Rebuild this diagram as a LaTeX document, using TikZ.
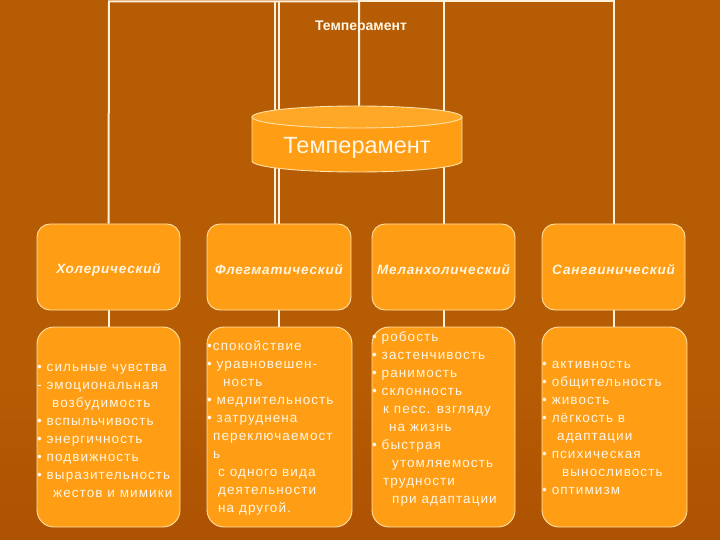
\documentclass[tikz,border=0pt]{standalone}
\usepackage{fontspec}
\setmainfont{Liberation Sans}
\newfontfamily\descfont[LetterSpace=8]{Liberation Sans}
\newfontfamily\typefont[LetterSpace=6]{Liberation Sans}
\usetikzlibrary{calc}
\definecolor{bgtop}{HTML}{964C00}
\definecolor{bgmid}{HTML}{B65C04}
\definecolor{bgbot}{HTML}{9C4200}
\definecolor{boxfill}{HTML}{FF9D14}
\definecolor{boxedge}{HTML}{FFE2A8}
\definecolor{cyltop}{HTML}{FFA828}
\definecolor{txt}{HTML}{FFF6E4}
\definecolor{wirec}{HTML}{FFF2DC}
\pgfdeclareverticalshading{bgshade}{100bp}{color(0bp)=(bgbot); color(40bp)=(bgmid); color(80bp)=(bgmid); color(100bp)=(bgtop)}
\pgfdeclarelayer{back}\pgfdeclarelayer{wires}\pgfdeclarelayer{cylbg}
\pgfsetlayers{back,wires,cylbg,main}
\tikzset{
  typebox/.style={draw=boxedge, line width=0.9pt, fill=boxfill, rounded corners=13pt,
    minimum width=143pt, minimum height=86pt, inner sep=0pt,
    font=\typefont\bfseries\itshape\fontsize{13.5}{16}\selectfont, text=txt},
  typelabel/.style={inner sep=0pt, text=txt,
    font=\typefont\bfseries\itshape\fontsize{13.5}{16}\selectfont},
  descbox/.style={draw=boxedge, line width=0.9pt, fill=boxfill, rounded corners=17pt,
    minimum height=200pt, inner sep=0pt},
  desctext/.style={anchor=north west, inner sep=0pt, align=left, text=txt,
    font=\descfont\fontsize{13.5}{18}\selectfont},
  wire/.style={draw=wirec, line width=2pt},
}
\begin{document}
\begin{tikzpicture}[x=1pt,y=-1pt]
\useasboundingbox (0,0) rectangle (720,540);
\begin{pgfonlayer}{back}
\fill[shading=bgshade] (0,0) rectangle (720,540);
\end{pgfonlayer}

% title
\node[font=\bfseries\fontsize{14}{16}\selectfont, text=txt] (title) at (361,27) {Темперамент};

% type boxes
\node[typebox] (chol) at (108.5,267) {};
\node[typebox, minimum width=144pt] (phleg) at (279,267) {};
\node[typebox] (mel) at (443.5,267) {};
\node[typebox] (sang) at (613.5,267) {};
\node[typelabel] (lchol) at (108.5,270) {Холерический};
\node[typelabel] (lphleg) at (279,270) {Флегматический};
\node[typelabel] (lmel) at (443.5,270) {Меланхолический};
\node[typelabel] (lsang) at (613.5,270) {Сангвинический};

% description boxes
\node[descbox, minimum width=143pt] (dchol) at (108.5,427) {};
\node[descbox, minimum width=145pt] (dphleg) at (279.5,427) {};
\node[descbox, minimum width=143pt] (dmel) at (443.5,427) {};
\node[descbox, minimum width=145pt] (dsang) at (614.5,427) {};

\node[desctext] (tchol) at (37,361) {\rule{0pt}{10pt}• сильные чувства\\
- эмоциональная\\
\hspace*{15pt}возбудимость\\
• вспыльчивость\\
• энергичность\\
• подвижность\\
• выразительность\\
\hspace*{16pt}жестов и мимики};

\node[desctext] (tphleg) at (207,340) {\rule{0pt}{10pt}•спокойствие\\
• уравновешен-\\
\hspace*{16pt}ность\\
• медлительность\\
• затруднена\\
\hspace*{6pt}переключаемост\\
\hspace*{6pt}ь\\
\hspace*{11pt}с одного вида\\
\hspace*{11pt}деятельности\\
\hspace*{11pt}на другой.};

\node[desctext] (tmel) at (372,331) {\rule{0pt}{10pt}• робость\\
• застенчивость\\
• ранимость\\
• склонность\\
\hspace*{11pt}к песс. взгляду\\
\hspace*{17pt}на жизнь\\
• быстрая\\
\hspace*{20pt}утомляемость\\
\hspace*{11pt}трудности\\
\hspace*{20pt}при адаптации};

\node[desctext] (tsang) at (542,358) {\rule{0pt}{10pt}• активность\\
• общительность\\
• живость\\
• лёгкость в\\
\hspace*{15pt}адаптации\\
• психическая\\
\hspace*{20pt}выносливость\\
• оптимизм};

% cylinder
\begin{pgfonlayer}{cylbg}
\fill[boxfill] (252,117) -- (252,161) arc[start angle=180, end angle=0, x radius=105, y radius=11]
  -- (462,117) -- cycle;
\draw[boxedge, line width=0.9pt] (252,117) -- (252,161) arc[start angle=180, end angle=0, x radius=105, y radius=11] -- (462,117);
\filldraw[fill=cyltop, draw=boxedge, line width=0.9pt] (357,117) ellipse[x radius=105, y radius=11];
\end{pgfonlayer}
\node[inner sep=0pt, text=txt, font=\fontsize{23.5}{26}\selectfont] (cyl) at (357,148) {Темперамент};

% connectors
\coordinate (tl) at (109,1.5);
\coordinate (tr) at (613.5,1.5);
\coordinate (cylin) at (359,110);
\begin{pgfonlayer}{wires}
\draw[wire] (cylin) |- (tl) -- (chol.north);
\draw[wire] (cylin) |- (tr) -- (sang.north);
\draw[wire] (phleg.north) -- (phleg.north |- tl);
\draw[wire] ([xshift=-4.5pt]phleg.north) -- ([xshift=-4.5pt]phleg.north |- tl);
\draw[wire] (mel.north) -- (mel.north |- tl);
\draw[wire] (chol.south) -- (dchol.north);
\draw[wire] (phleg.south) -- (phleg.south |- dphleg.north);
\draw[wire] (mel.south) -- (dmel.north);
\draw[wire] (sang.south) -- (sang.south |- dsang.north);
\end{pgfonlayer}
\end{tikzpicture}
\end{document}
